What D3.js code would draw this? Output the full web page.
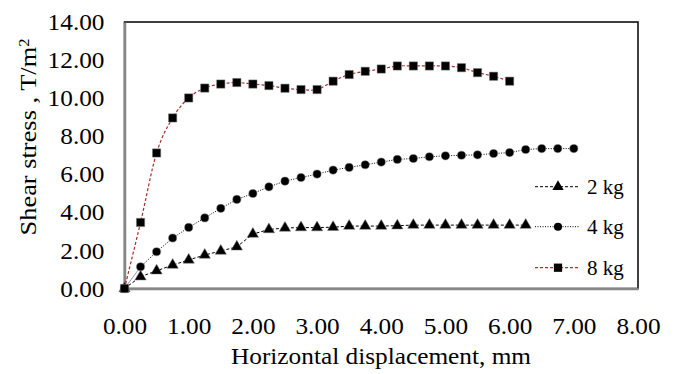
<!DOCTYPE html>
<html>
<head>
<meta charset="utf-8">
<script src="https://cdn.jsdelivr.net/npm/d3@7"></script>
<style>
  body { margin: 0; background: #fff; }
</style>
</head>
<body>
<svg id="chart" width="679" height="374"></svg>
<script>
// data
var xTicks = [0, 1, 2, 3, 4, 5, 6, 7, 8];
var yTicks = [0, 2, 4, 6, 8, 10, 12, 14];

var x2kg = [0, 0.25, 0.5, 0.75, 1, 1.25, 1.5, 1.75, 2, 2.25, 2.5, 2.75, 3, 3.25, 3.5, 3.75,
    4, 4.25, 4.5, 4.75, 5, 5.25, 5.5, 5.75, 6, 6.25];
var y2kg = [0, 0.62, 0.93, 1.23, 1.5, 1.76, 1.97, 2.19, 2.86, 3.1, 3.18, 3.2, 3.2, 3.22, 3.28, 3.28,
    3.28, 3.3, 3.33, 3.33, 3.33, 3.33, 3.33, 3.33, 3.33, 3.33];

var x4kg = [0, 0.25, 0.5, 0.75, 1, 1.25, 1.5, 1.75, 2, 2.25, 2.5, 2.75, 3, 3.25, 3.5, 3.75,
    4, 4.25, 4.5, 4.75, 5, 5.25, 5.5, 5.75, 6, 6.25, 6.5, 6.75, 7];
var y4kg = [0, 1.14, 1.93, 2.65, 3.21, 3.71, 4.21, 4.68, 4.99, 5.34, 5.64, 5.83, 6.01, 6.22, 6.36, 6.5,
    6.64, 6.78, 6.83, 6.92, 6.97, 7.0, 7.02, 7.09, 7.14, 7.3, 7.35, 7.35, 7.35];

var x8kg = [0, 0.25, 0.5, 0.75, 1, 1.25, 1.5, 1.75, 2, 2.25, 2.5, 2.75, 3, 3.25, 3.5, 3.75,
    4, 4.25, 4.5, 4.75, 5, 5.25, 5.5, 5.75, 6];
var y8kg = [0, 3.47, 7.12, 8.96, 10.01, 10.53, 10.74, 10.82, 10.74, 10.66, 10.52, 10.45, 10.45, 10.89, 11.24, 11.41,
    11.53, 11.69, 11.69, 11.69, 11.69, 11.6, 11.34, 11.15, 10.89];

var seriesNames = ["2 kg", "4 kg", "8 kg"];

var FONT = "Liberation Serif";
var STRETCH = 1.1; // the reference text is a little wide for its height

var margin = {top: 22, right: 41, bottom: 85.5, left: 124.5};
var width = 679, height = 374;
var w = width - margin.left - margin.right;
var h = height - margin.top - margin.bottom;

var svg = d3.select("#chart")
    .attr("font-family", FONT);
var g = svg.append("g")
    .attr("transform", "translate(" + margin.left + "," + margin.top + ")");

var xScale = d3.scaleLinear().domain([0, 8]).range([0, w]);
var yScale = d3.scaleLinear().domain([0, 14]).range([h, 0]);

function zip(xs, ys) {
    return xs.map(function(v, i) { return {x: v, y: ys[i]}; });
}

var series = [
    {name: seriesNames[0], data: zip(x2kg, y2kg), stroke: "#000", dash: "3,2", width: 1, marker: "triangle", curve: d3.curveLinear},
    {name: seriesNames[1], data: zip(x4kg, y4kg), stroke: "#000", dash: "1,1.5", width: 1, marker: "circle", curve: d3.curveLinear},
    {name: seriesNames[2], data: zip(x8kg, y8kg), stroke: "#a5302c", dash: "3,2", width: 1.2, marker: "square", curve: d3.curveCatmullRom.alpha(0)}
];

// plot area border
g.append("rect")
    .attr("width", w).attr("height", h)
    .attr("fill", "none").attr("stroke", "#000").attr("stroke-width", 1.5);

// axes
var xAxis = g.append("g")
    .attr("transform", "translate(0," + h + ")")
    .call(d3.axisBottom(xScale).tickValues(xTicks).tickSize(0).tickPadding(29)
        .tickFormat(d3.format(".2f")));
var yAxis = g.append("g")
    .call(d3.axisLeft(yScale).tickValues(yTicks).tickSize(0).tickPadding(20)
        .tickFormat(d3.format(".2f")));
[xAxis, yAxis].forEach(function(a) {
    a.attr("font-family", FONT).attr("font-size", 23);
    a.select(".domain").attr("stroke", "#868686").attr("stroke-width", 2.5);
    a.selectAll("text").attr("fill", "#000").classed("wide", true);
});
yAxis.selectAll("text").attr("dy", "0.33em");

function symbolFor(m) {
    if (m === "triangle") return d3.symbol().type(d3.symbolTriangle).size(55)();
    if (m === "circle") return d3.symbol().type(d3.symbolCircle).size(52)();
    return d3.symbol().type(d3.symbolSquare).size(68)();
}

series.forEach(function(s) {
    var line = d3.line()
        .curve(s.curve)
        .x(function(d) { return xScale(d.x); })
        .y(function(d) { return yScale(d.y); });
    g.append("path")
        .datum(s.data)
        .attr("d", line)
        .attr("fill", "none")
        .attr("stroke", s.stroke)
        .attr("stroke-width", s.width)
        .attr("stroke-dasharray", s.dash);
});

series.forEach(function(s) {
    g.selectAll(null)
        .data(s.data)
        .enter().append("path")
        .attr("d", symbolFor(s.marker))
        .attr("transform", function(d) {
            return "translate(" + xScale(d.x) + "," + yScale(d.y) + ")";
        })
        .attr("fill", "#000")
        .attr("stroke", "#777")
        .attr("stroke-width", 0.5);
});

// legend
var legendY = [186.7, 226.7, 267.7];
var legend = svg.append("g");
series.forEach(function(s, i) {
    var row = legend.append("g").attr("transform", "translate(535," + legendY[i] + ")");
    row.append("line")
        .attr("x1", 0).attr("x2", 45)
        .attr("stroke", s.stroke)
        .attr("stroke-width", s.width)
        .attr("stroke-dasharray", s.dash);
    row.append("path")
        .attr("d", symbolFor(s.marker))
        .attr("transform", "translate(23,0)")
        .attr("fill", "#000");
    row.append("text")
        .attr("x", 52).attr("dy", "0.33em")
        .attr("font-size", 21)
        .text(s.name);
});

// axis titles
svg.append("text")
    .attr("class", "wide")
    .attr("x", 381).attr("y", 364)
    .attr("text-anchor", "middle")
    .attr("font-size", 23)
    .text("Horizontal displacement, mm");

var yTitle = svg.append("text")
    .attr("class", "wide")
    .attr("transform", "translate(36,137) rotate(-90)")
    .attr("text-anchor", "middle")
    .attr("font-size", 24);
yTitle.append("tspan").text("Shear stress , T/m");
yTitle.append("tspan").attr("dy", "-0.45em").attr("font-size", 15).text("2");

// widen axis texts a little, like the reference
svg.selectAll("text.wide").each(function() {
    var len = this.getComputedTextLength();
    d3.select(this)
        .attr("textLength", len * STRETCH)
        .attr("lengthAdjust", "spacingAndGlyphs");
});
</script>
</body>
</html>
